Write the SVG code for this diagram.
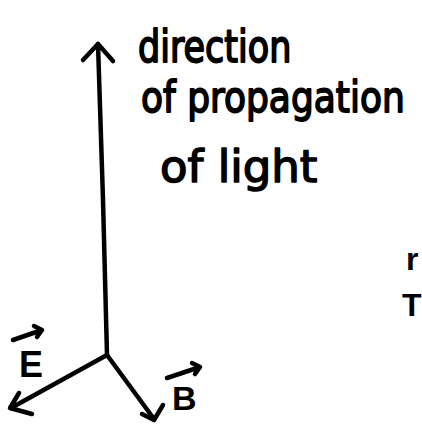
<svg xmlns="http://www.w3.org/2000/svg" width="422" height="425" viewBox="0 0 422 425">
  <style>
    .ln { fill: none; stroke: #000; stroke-width: 4.5; stroke-linecap: round; stroke-linejoin: round; }
    .hw { font-family: "DejaVu Sans", "Liberation Sans", sans-serif; fill: #000; stroke: #000; stroke-width: 1.5; stroke-linejoin: round; }
    .lbl { font-family: "Liberation Sans", "DejaVu Sans", sans-serif; font-weight: bold; fill: #000; }
  </style>
  <rect width="422" height="425" fill="#fff"/>
  <g id="connectors">
    <path class="ln" d="M107 355 L103 200 L98 44"/>
    <polyline class="ln" points="83,60 98,44 113,61"/>
    <path class="ln" d="M107 355 L11 408"/>
    <polyline class="ln" points="19,393 10,408 32,414"/>
    <path class="ln" d="M107 355 L154 419"/>
    <polyline class="ln" points="142,414 154,420 163,405"/>
  </g>
  <g id="label-propagation">
    <text class="hw" transform="translate(138 62) scale(1 1.25)" font-size="35">direction</text>
    <text class="hw" transform="translate(141 112) scale(1 1.2)" font-size="36">of propagation</text>
    <text class="hw" x="160" y="182" font-size="45">of light</text>
  </g>
  <g id="label-E">
    <path class="ln" d="M13 340 L42 330 M34 326 L42 330 L37 337"/>
    <text class="lbl" x="19" y="377" font-size="36">E</text>
  </g>
  <g id="label-B">
    <path class="ln" d="M167 378 L200 367 M192 363 L200 367 L195 374"/>
    <text class="lbl" x="172" y="410" font-size="34">B</text>
  </g>
  <g id="edge-fragments">
    <text class="lbl" x="406" y="270" font-size="32">r</text>
    <text class="lbl" x="402" y="316" font-size="32">T</text>
  </g>
</svg>
